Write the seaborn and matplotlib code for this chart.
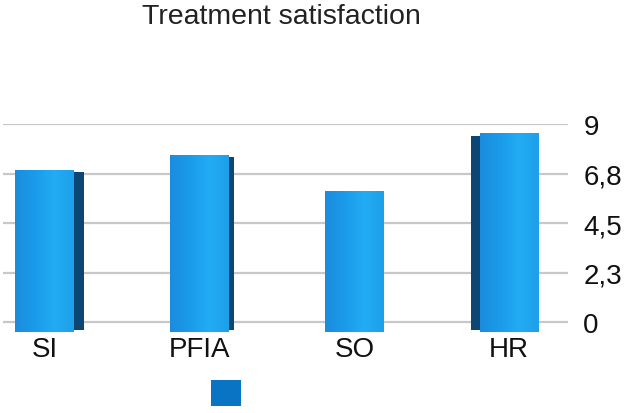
import numpy as np
import pandas as pd
import matplotlib
matplotlib.use("Agg")
import matplotlib.pyplot as plt
import seaborn as sns
from matplotlib.colors import LinearSegmentedColormap
from matplotlib.patches import Rectangle, Patch

# ---- data ----
categories = ["SI", "PFIA", "SO", "HR"]
values = [6.9, 7.6, 5.95, 8.6]
y_ticks = [0, 2.25, 4.5, 6.75, 9]
y_tick_labels = ["0", "2,3", "4,5", "6,8", "9"]
title = "Treatment satisfaction"

# ---- style ----
side_depth = [0.065, 0.032, 0.0, -0.058]   # pseudo-3D side face width (x units)
floor_drop = 0.45                           # pseudo-3D base below the zero line
front_cmap = LinearSegmentedColormap.from_list(
    "front", ["#1C8CDD", "#1A9BEA", "#22ACF4", "#1E9FEA"])
side_color = "#0C4674"
legend_color = "#0A74C4"

sns.set_theme(style="white")
plt.rcParams["font.family"] = ["Liberation Sans", "DejaVu Sans"]

fig = plt.figure(figsize=(6.3, 4.14), dpi=100)
ax = fig.add_axes([3 / 630, (414 - 334) / 414, 565 / 630, (334 - 125) / 414])

df = pd.DataFrame({"cat": categories, "val": values})
sns.barplot(data=df, x="cat", y="val", color="#1A9BEA", width=0.38,
            ax=ax, zorder=2, saturation=1)

grad = np.linspace(0, 1, 256)[None, :]
for patch, d in zip(ax.patches, side_depth):
    x0, w, h = patch.get_x(), patch.get_width(), patch.get_height()
    patch.set_y(-floor_drop)
    patch.set_height(h + floor_drop)
    patch.set_edgecolor("none")
    im = ax.imshow(grad, cmap=front_cmap, aspect="auto",
                   extent=[x0, x0 + w, -floor_drop, h], zorder=3)
    im.set_clip_path(patch)
    top = h * 0.985
    if d > 0:
        ax.add_patch(Rectangle((x0 + w, -floor_drop + 0.1), d, top + floor_drop - 0.1,
                               color=side_color, zorder=2, lw=0))
    elif d < 0:
        ax.add_patch(Rectangle((x0 + d, -floor_drop + 0.1), -d, top + floor_drop - 0.1,
                               color=side_color, zorder=2, lw=0))

ax.set_xlim(-0.27, 3.38)
ax.set_ylim(-0.5, 9.0)
ax.yaxis.tick_right()
ax.set_yticks(y_ticks)
ax.set_yticklabels(y_tick_labels)
ax.grid(axis="y", color="#c8c8c8", lw=1.6)
ax.grid(axis="x", visible=False)
ax.set_axisbelow(True)
for s in ax.spines.values():
    s.set_visible(False)
ax.tick_params(axis="y", length=0, pad=11, labelsize=20, labelcolor="#111111")
ax.tick_params(axis="x", length=0, pad=2, labelsize=20, labelcolor="#111111")
ax.set_xlabel("")
ax.set_ylabel("")

fig.text(281 / 630, 1 - 17 / 414, title, ha="center", va="center",
         fontsize=20.5, color="#222222")

fig.legend(handles=[Patch(facecolor=legend_color, edgecolor="none", label="")],
           loc="center", bbox_to_anchor=(226 / 630, 1 - 395 / 414),
           frameon=False, fontsize=20, handlelength=1.05, handleheight=1.05,
           handletextpad=0, borderpad=0, borderaxespad=0)

fig.savefig("out.png", dpi=100)
